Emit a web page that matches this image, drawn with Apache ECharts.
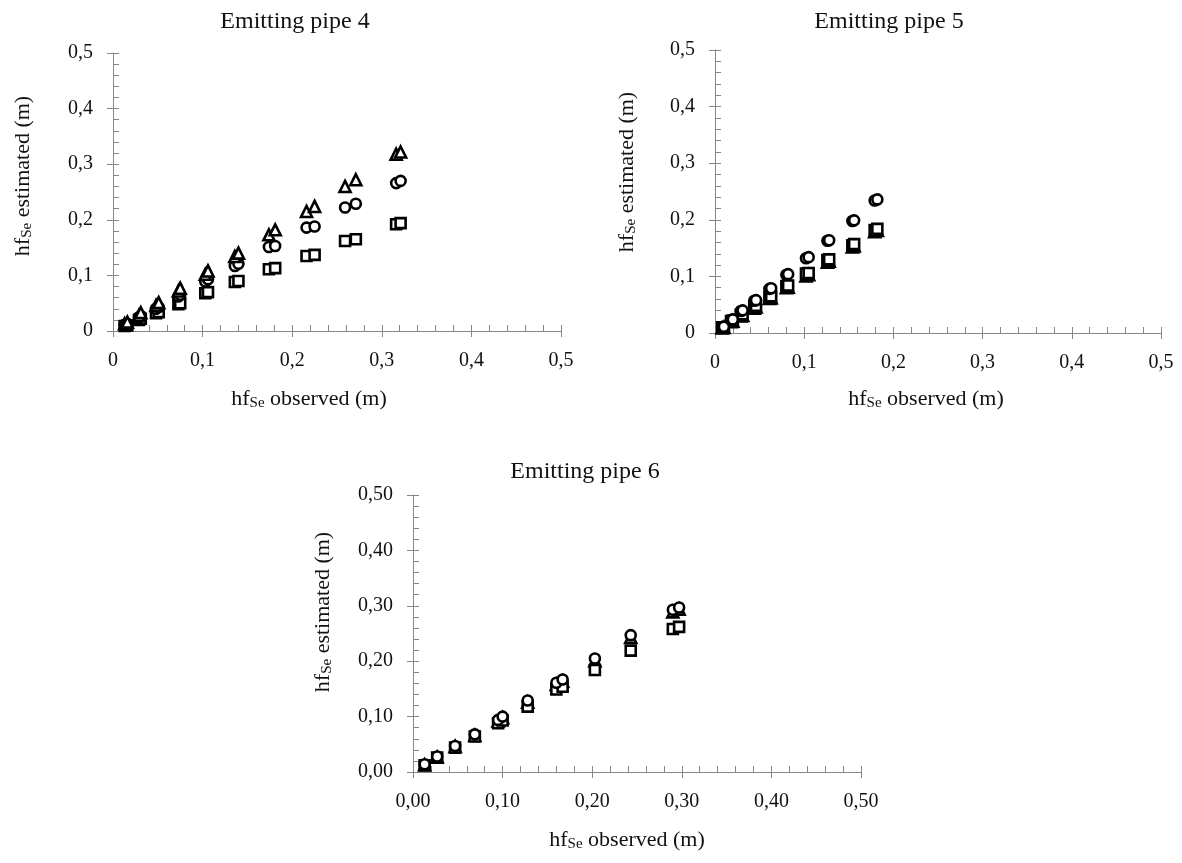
<!DOCTYPE html>
<html>
<head>
<meta charset="utf-8">
<script src="https://cdn.jsdelivr.net/npm/echarts@6/dist/echarts.min.js"></script>
<style>
  html, body { margin: 0; padding: 0; background: #fff; }
  #main { width: 1182px; height: 863px; }
</style>
</head>
<body>
<div id="main"></div>
<script>
// Emitting pipe 4
const pipe4Obs = [0.013, 0.016, 0.029, 0.031, 0.048, 0.051, 0.073, 0.075, 0.103, 0.106, 0.136, 0.140, 0.174, 0.181, 0.216, 0.225, 0.259, 0.271, 0.316, 0.321];
const pipe4Tri = [0.013, 0.016, 0.028, 0.033, 0.046, 0.051, 0.072, 0.077, 0.102, 0.108, 0.134, 0.140, 0.173, 0.182, 0.215, 0.224, 0.260, 0.272, 0.318, 0.322];
const pipe4Circ = [0.011, 0.013, 0.024, 0.027, 0.040, 0.043, 0.062, 0.065, 0.089, 0.093, 0.117, 0.121, 0.151, 0.153, 0.186, 0.188, 0.222, 0.229, 0.266, 0.270];
const pipe4Sq = [0.009, 0.010, 0.020, 0.022, 0.032, 0.034, 0.048, 0.050, 0.068, 0.070, 0.088, 0.090, 0.111, 0.113, 0.135, 0.137, 0.162, 0.165, 0.192, 0.194];

// Emitting pipe 5
const pipe5Obs = [0.008, 0.010, 0.018, 0.020, 0.029, 0.031, 0.044, 0.046, 0.061, 0.063, 0.080, 0.082, 0.102, 0.105, 0.126, 0.128, 0.154, 0.156, 0.179, 0.182];
const pipe5Circ = [0.010, 0.011, 0.023, 0.024, 0.039, 0.040, 0.057, 0.058, 0.078, 0.079, 0.103, 0.104, 0.132, 0.134, 0.163, 0.164, 0.198, 0.199, 0.234, 0.236];
const pipe5Sq = [0.010, 0.010, 0.021, 0.022, 0.032, 0.033, 0.047, 0.048, 0.064, 0.065, 0.083, 0.084, 0.105, 0.106, 0.129, 0.130, 0.155, 0.157, 0.182, 0.184];
const pipe5Tri = [0.009, 0.010, 0.020, 0.021, 0.030, 0.031, 0.044, 0.046, 0.061, 0.062, 0.080, 0.081, 0.101, 0.103, 0.125, 0.127, 0.152, 0.154, 0.179, 0.181];

// Emitting pipe 6
const pipe6Obs = [0.013, 0.027, 0.047, 0.069, 0.095, 0.100, 0.128, 0.160, 0.167, 0.203, 0.243, 0.290, 0.297];
const pipe6Circ = [0.014, 0.028, 0.047, 0.068, 0.094, 0.100, 0.129, 0.161, 0.167, 0.205, 0.247, 0.293, 0.297];
const pipe6Tri = [0.013, 0.027, 0.046, 0.066, 0.092, 0.098, 0.126, 0.158, 0.164, 0.201, 0.243, 0.289, 0.294];
const pipe6Sq = [0.012, 0.026, 0.044, 0.064, 0.088, 0.093, 0.118, 0.149, 0.154, 0.184, 0.219, 0.258, 0.262];

const ticksShort = ['0', '0,1', '0,2', '0,3', '0,4', '0,5'];
const ticksLong = ['0,00', '0,10', '0,20', '0,30', '0,40', '0,50'];

const plotTitles = ['Emitting pipe 4', 'Emitting pipe 5', 'Emitting pipe 6'];

const fontFam = '"Liberation Serif", "Times New Roman", serif';
const axisGrey = '#868686';

const grids = [
  { left: 113, top: 53, width: 448, height: 278 },
  { left: 715, top: 50, width: 446, height: 283 },
  { left: 413, top: 495, width: 448, height: 277 }
];

function pairs(xs, ys) {
  return xs.map((x, i) => [x, ys[i]]);
}

function axis(gridIndex, labels, main, isX) {
  return {
    type: 'value',
    gridIndex: gridIndex,
    min: 0,
    max: 0.5,
    interval: 0.1,
    splitLine: { show: false },
    axisLine: { show: main, onZero: false, lineStyle: { color: axisGrey, width: 1 } },
    axisTick: { show: true, inside: main, length: 6, lineStyle: { color: axisGrey } },
    minorTick: { show: main, splitNumber: 5, length: 6, lineStyle: { color: axisGrey } },
    axisLabel: {
      show: main,
      margin: isX ? 20 : 20,
      color: '#111',
      fontFamily: fontFam,
      fontSize: 20,
      formatter: v => labels[Math.round(v * 10)]
    }
  };
}

const tickSets = [ticksShort, ticksShort, ticksLong];
const xAxes = [], yAxes = [], allGrids = [];
for (let k = 0; k < 2; k++) {
  for (let i = 0; i < 3; i++) {
    allGrids.push(Object.assign({ containLabel: false }, grids[i]));
    xAxes.push(axis(k * 3 + i, tickSets[i], k === 0, true));
    yAxes.push(axis(k * 3 + i, tickSets[i], k === 0, false));
  }
}

function scatter(idx, symbol, data) {
  return {
    type: 'scatter',
    xAxisIndex: idx,
    yAxisIndex: idx,
    symbol: symbol,
    symbolSize: symbol === 'triangle' ? 11 : 10,
    itemStyle: { color: '#fff', borderColor: '#000', borderWidth: 2.6, opacity: 1 },
    emphasis: { disabled: true },
    data: data
  };
}

const series = [
  scatter(0, 'rect', pairs(pipe4Obs, pipe4Sq)),
  scatter(0, 'circle', pairs(pipe4Obs, pipe4Circ)),
  scatter(0, 'triangle', pairs(pipe4Obs, pipe4Tri)),
  scatter(1, 'triangle', pairs(pipe5Obs, pipe5Tri)),
  scatter(1, 'rect', pairs(pipe5Obs, pipe5Sq)),
  scatter(1, 'circle', pairs(pipe5Obs, pipe5Circ)),
  scatter(2, 'triangle', pairs(pipe6Obs, pipe6Tri)),
  scatter(2, 'rect', pairs(pipe6Obs, pipe6Sq)),
  scatter(2, 'circle', pairs(pipe6Obs, pipe6Circ))
];

const richName = {
  a: { fontSize: 22, fontFamily: fontFam, fill: '#111', lineHeight: 24 },
  s: { fontSize: 15, fontFamily: fontFam, fill: '#111', lineHeight: 16, verticalAlign: 'bottom', padding: [7, 0, 0, 0] }
};

function nameText(x, y, text, rotate) {
  return {
    type: 'text',
    x: x,
    y: y,
    rotation: rotate ? Math.PI / 2 : 0,
    style: { text: text, rich: richName, align: 'center', verticalAlign: 'middle' },
    silent: true
  };
}

function titleText(x, y, text) {
  return {
    type: 'text',
    x: x,
    y: y,
    style: { text: text, fontFamily: fontFam, fontSize: 24, fill: '#111', align: 'center', verticalAlign: 'middle' },
    silent: true
  };
}

const obsName = '{a|hf}{s|Se}{a| observed (m)}';
const estName = '{a|hf}{s|Se}{a| estimated (m)}';

const graphic = [
  titleText(295, 22, plotTitles[0]),
  titleText(889, 22, plotTitles[1]),
  titleText(585, 472, plotTitles[2]),
  nameText(309, 399, obsName, false),
  nameText(926, 399, obsName, false),
  nameText(627, 840, obsName, false),
  nameText(23, 176, estName, true),
  nameText(627, 172, estName, true),
  nameText(323, 612, estName, true)
];

const chart = echarts.init(document.getElementById('main'));
chart.setOption({
  backgroundColor: '#fff',
  animation: false,
  grid: allGrids,
  xAxis: xAxes,
  yAxis: yAxes,
  series: series,
  graphic: graphic
});
</script>
</body>
</html>
